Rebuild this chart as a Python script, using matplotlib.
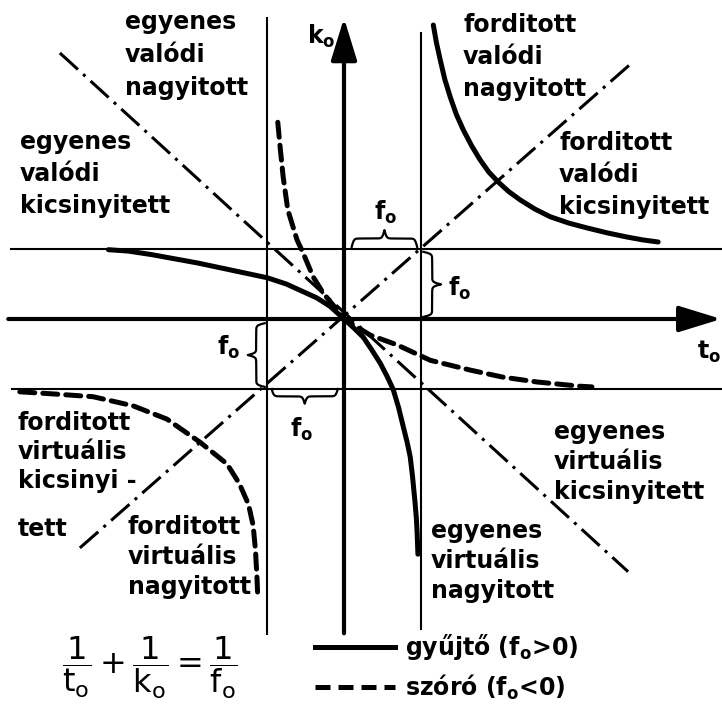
import numpy as np
import matplotlib
matplotlib.use('Agg')
import matplotlib.pyplot as plt
from matplotlib.lines import Line2D

plt.rcParams['font.family'] = ['DejaVu Sans']
plt.rcParams['mathtext.default'] = 'regular'

# all values in units of the focal length f_o (t = object distance, k = image distance)
focal = 1.0

# converging lens (f_o > 0), solid curves
conv_right_t = [1.16, 1.20, 1.25, 1.31, 1.38, 1.46, 1.55, 1.66, 1.77, 1.88, 2.00,
                2.14, 2.29, 2.48, 2.68, 2.92, 3.16, 3.42, 3.68, 3.88, 4.08]
conv_right_k = [4.20, 3.95, 3.70, 3.42, 3.17, 2.92, 2.70, 2.47, 2.27, 2.10, 1.96,
                1.82, 1.70, 1.57, 1.46, 1.37, 1.30, 1.23, 1.17, 1.13, 1.10]
conv_left_t = [-3.06, -2.80, -2.50, -2.20, -1.90, -1.60, -1.30, -1.00, -0.75,
               -0.53, -0.35, -0.18, 0.00, 0.12, 0.25, 0.36, 0.47, 0.56, 0.64,
               0.71, 0.77, 0.82, 0.86, 0.89, 0.92, 0.94, 0.95, 0.96]
conv_left_k = [0.99, 0.97, 0.92, 0.86, 0.80, 0.73, 0.66, 0.59, 0.50,
               0.39, 0.30, 0.18, 0.00, -0.12, -0.26, -0.44, -0.63, -0.82, -1.01,
               -1.27, -1.54, -1.76, -1.97, -2.25, -2.59, -2.85, -3.06, -3.36]

# diverging lens (f_o < 0), dashed curves
div_upper_t = [-0.86, -0.83, -0.79, -0.73, -0.61, -0.53, -0.40, -0.27, -0.09,
               0.00, 0.34, 0.69, 1.12, 1.64, 2.06, 2.51, 3.06, 3.22]
div_upper_k = [2.81, 2.46, 2.03, 1.56, 1.13, 0.94, 0.60, 0.37, 0.13,
               0.00, -0.23, -0.37, -0.59, -0.73, -0.83, -0.90, -0.96, -0.97]
div_lower_t = [-4.21, -3.78, -3.26, -2.74, -2.30, -1.87, -1.52, -1.36, -1.24,
               -1.18, -1.15, -1.13, -1.12]
div_lower_k = [-1.04, -1.07, -1.11, -1.24, -1.43, -1.76, -2.07, -2.35, -2.65,
               -2.95, -3.30, -3.70, -3.97]

# dash-dot guide lines k = t and k = -t
diag_t = [-3.43, 3.75]
diag_k = [-3.27, 3.67]
anti_t = [-3.69, 3.69]
anti_k = [3.80, -3.61]

W, H = 722, 708
fig = plt.figure(figsize=(W / 100, H / 100), dpi=100)
ax = fig.add_axes([0, 0, 1, 1])
ax.set_xlim(-344 / 77, (W - 344) / 77)
ax.set_ylim(-(H - 319) / 70, 319 / 70)
ax.axis('off')


def P(x, y):
    # pixel position -> axes fraction (for labels only)
    return x / W, 1 - y / H


# thin asymptote lines
ax.plot([-focal, -focal], [-4.50, 4.30], color='k', lw=1.5)
ax.plot([focal, focal], [-4.43, 4.09], color='k', lw=1.5)
ax.plot([-4.33, 5], [focal, focal], color='k', lw=1.5)
ax.plot([-4.31, 5], [-focal, -focal], color='k', lw=1.5)

# axes with arrows
arrow = dict(arrowstyle='-|>,head_length=1.3,head_width=0.4', lw=3,
             color='k', mutation_scale=20, shrinkA=0, shrinkB=0)
ax.annotate('', xy=(4.90, 0), xytext=(-4.36, 0), arrowprops=arrow,
            annotation_clip=False)
ax.annotate('', xy=(0, 4.30), xytext=(0, -4.49), arrowprops=arrow,
            annotation_clip=False)

# guide lines
dashdot = (0, (8, 2.3, 1, 2.3))
ax.plot(diag_t, diag_k, color='k', lw=2.2, linestyle=dashdot)
ax.plot(anti_t, anti_k, color='k', lw=2.2, linestyle=dashdot)

# curves
dashed = (0, (3, 1.6))
ax.plot(conv_right_t, conv_right_k, color='k', lw=3.6,
        solid_capstyle='round', solid_joinstyle='round')
ax.plot(conv_left_t, conv_left_k, color='k', lw=3.6,
        solid_capstyle='round', solid_joinstyle='round')
ax.plot(div_upper_t, div_upper_k, color='k', lw=3.6, linestyle=dashed,
        dash_capstyle='round', dash_joinstyle='round')
ax.plot(div_lower_t, div_lower_k, color='k', lw=3.6, linestyle=dashed,
        dash_capstyle='round', dash_joinstyle='round')


def brace(a, b, base, tip, vertical=False):
    s = np.linspace(0, 1, 201)
    half = s[:101]
    h = (1 / (1 + np.exp(-60 * (half - half[0])))
         + 1 / (1 + np.exp(-60 * (half - half[-1]))))
    shape = np.concatenate([h, h[-2::-1]]) - 0.5
    along = a + (b - a) * s
    across = base + (tip - base) * shape
    if vertical:
        ax.plot(across, along, color='k', lw=1.6)
    else:
        ax.plot(along, across, color='k', lw=1.6)


brace(0.10, 0.95, 1.03, 1.27)
brace(0.96, 0.03, 1.03, 1.26, vertical=True)
brace(-0.06, -0.97, -1.03, -1.25, vertical=True)
brace(-0.94, -0.08, -1.00, -1.21)

fs = 17
for (x, y) in [(386, 212), (460, 288), (229, 347), (302, 429)]:
    ax.text(*P(x, y), 'f$_o$', transform=ax.transAxes, fontsize=fs,
            fontweight='bold', ha='center', va='center')
ax.text(*P(321, 36), 'k$_o$', transform=ax.transAxes, fontsize=fs,
        fontweight='bold', ha='center', va='center')
ax.text(*P(697, 352), 't$_o$', transform=ax.transAxes, fontsize=fs,
        fontweight='bold', ha='left', va='center')

blocks = [
    (['egyenes', 'valódi', 'nagyitott'], 125, 22, 33),
    (['egyenes', 'valódi', 'kicsinyitett'], 20, 142, 32),
    (['forditott', 'valódi', 'nagyitott'], 463, 25, 32),
    (['forditott', 'valódi', 'kicsinyitett'], 559, 143, 32),
    (['forditott', 'virtuális', 'kicsinyi -'], 18, 423, 29),
    (['tett'], 18, 529, 30),
    (['forditott', 'virtuális', 'nagyitott'], 128, 527, 30),
    (['egyenes', 'virtuális', 'kicsinyitett'], 554, 432, 30),
    (['egyenes', 'virtuális', 'nagyitott'], 431, 531, 30),
]
for lines, x, y0, step in blocks:
    for i, line in enumerate(lines):
        ax.text(*P(x, y0 + i * step), line, transform=ax.transAxes,
                fontsize=fs, fontweight='bold', ha='left', va='center')

# lens equation
ax.text(*P(150, 668), r'$\dfrac{1}{t_o}+\dfrac{1}{k_o}=\dfrac{1}{f_o}$',
        transform=ax.transAxes, fontsize=23, ha='center', va='center')

handles = [Line2D([], [], color='k', lw=3.6),
           Line2D([], [], color='k', lw=3.6, linestyle=dashed)]
ax.legend(handles, ['gyűjtő (f$_o$>0)', 'szóró (f$_o$<0)'],
          loc='upper left', bbox_to_anchor=P(315, 632), frameon=False,
          borderpad=0, borderaxespad=0, handlelength=3.4, handletextpad=0.4,
          labelspacing=0.45, prop={'size': fs, 'weight': 'bold'})

fig.savefig('out.png', dpi=100, facecolor='white')
